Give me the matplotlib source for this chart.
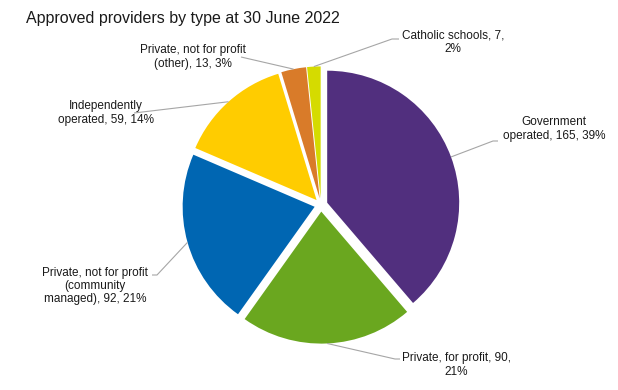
"""Approved providers by type at 30 June 2022 - pie chart"""

import matplotlib
matplotlib.use("Agg")
import matplotlib.pyplot as plt
import numpy as np

plt.rcParams["font.family"] = ["Liberation Sans", "DejaVu Sans"]

# datos
categories = ["Government\noperated", "Private, for profit,",
              "Private, not for profit\n(community\nmanaged)",
              "Independently\noperated", "Private, not for profit\n(other)",
              "Catholic schools,"]
counts = [165, 90, 92, 59, 13, 7]
percents = [39, 21, 21, 14, 3, 2]
label_texts = ["Government\noperated, 165, 39%",
               "Private, for profit, 90,\n21%",
               "Private, not for profit\n(community\nmanaged), 92, 21%",
               "Independently\noperated, 59, 14%",
               "Private, not for profit\n(other), 13, 3%",
               "Catholic schools, 7,\n2%"]
colors = ["#512F7E", "#6AA71F", "#0066B2", "#FFCC00", "#D97B29", "#D5DB00"]

# maquetación en píxeles (figura 618x390)
W, H = 618, 390
CX, CY, R = 321, 205, 132
label_pos = [(554, 129), (456, 365), (95, 286), (106, 113), (193, 57), (453, 42)]
elbows = [[(493, 141), (498, 141)],
          [(395, 359), (400, 359)],
          [(157, 275), (152, 275)],
          [(134, 113)],
          [(241, 57)],
          [(392, 39), (399, 39)]]


def to_data(px, py):
    """Píxeles de la imagen a coordenadas del eje (radio 1)"""
    return (px - CX) / R, (CY - py) / R


fig = plt.figure(figsize=(W / 100, H / 100), dpi=100)
ax = fig.add_axes([0, 0, 1, 1])

explode = [0.05] * len(counts)
wedges, _ = ax.pie(counts, colors=colors, startangle=90, counterclock=False,
                   explode=explode, radius=1, center=(0, 0),
                   wedgeprops=dict(linewidth=0))

# pie() fija sus propios límites: los reponemos después
ax.set_xlim(-CX / R, (W - CX) / R)
ax.set_ylim(-(H - CY) / R, CY / R)
ax.set_aspect("equal")
ax.axis("off")

for wedge, text, pos, elbow in zip(wedges, label_texts, label_pos, elbows):
    mid = np.deg2rad((wedge.theta1 + wedge.theta2) / 2)
    cx, cy = wedge.center
    pts = [(cx + wedge.r * np.cos(mid), cy + wedge.r * np.sin(mid))]
    pts += [to_data(*p) for p in elbow]
    xs, ys = zip(*pts)
    ax.plot(xs, ys, color="#A6A6A6", lw=0.8, solid_capstyle="butt")
    tx, ty = to_data(*pos)
    ax.text(tx, ty, text, ha="center", va="center", multialignment="center",
            fontsize=8.5, color="#1a1a1a", linespacing=1.15)

fig.text(26 / W, 1 - 23 / H, "Approved providers by type at 30 June 2022",
         ha="left", va="baseline", fontsize=11.5, color="#1a1a1a")

plt.savefig("out.png", dpi=100)
plt.close()
